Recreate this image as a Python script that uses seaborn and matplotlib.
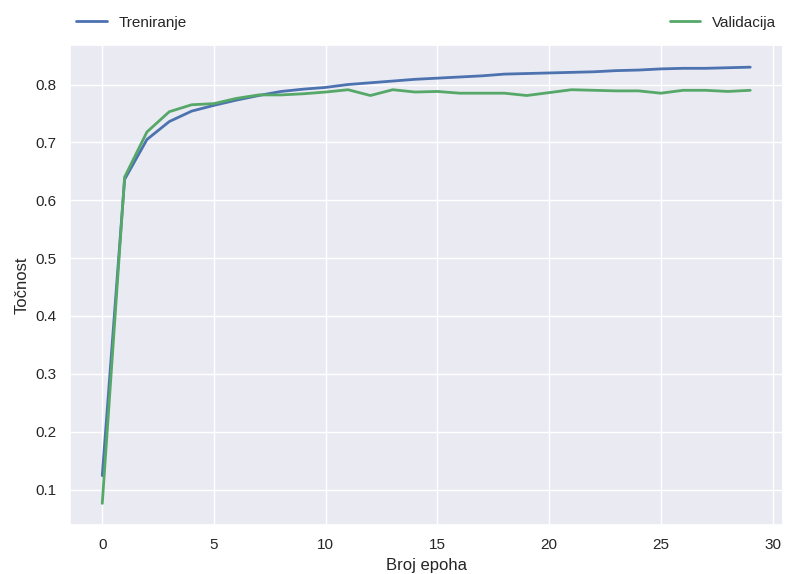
import matplotlib
matplotlib.use("Agg")
import matplotlib.pyplot as plt
import seaborn as sns
import pandas as pd

epochs = list(range(30))
train_acc = [0.124, 0.636, 0.705, 0.736, 0.754, 0.764, 0.773, 0.781, 0.788, 0.792,
             0.795, 0.800, 0.803, 0.806, 0.809, 0.811, 0.813, 0.815, 0.818, 0.819,
             0.820, 0.821, 0.822, 0.824, 0.825, 0.827, 0.828, 0.828, 0.829, 0.830]
val_acc = [0.076, 0.640, 0.718, 0.753, 0.765, 0.767, 0.776, 0.782, 0.782, 0.784,
           0.787, 0.791, 0.781, 0.791, 0.787, 0.788, 0.785, 0.785, 0.785, 0.781,
           0.786, 0.791, 0.790, 0.789, 0.789, 0.785, 0.790, 0.790, 0.788, 0.790]
labels = ["Treniranje", "Validacija"]
colors = ["#4C72B0", "#55A868"]

sns.set_theme(style="darkgrid")
plt.rcParams["font.family"] = ["Liberation Sans", "DejaVu Sans"]

df = pd.DataFrame({"epoha": epochs, labels[0]: train_acc, labels[1]: val_acc})

fig, ax = plt.subplots(figsize=(7.85, 5.74), dpi=100)
fig.subplots_adjust(left=0.089, right=0.997, bottom=0.085, top=0.921)

sns.lineplot(data=df, x="epoha", y=labels[0], label=labels[0], ax=ax,
             color=colors[0], linewidth=2)
sns.lineplot(data=df, x="epoha", y=labels[1], label=labels[1], ax=ax,
             color=colors[1], linewidth=2)

ax.set_xlabel("Broj epoha")
ax.set_ylabel("Točnost")
ax.legend(bbox_to_anchor=(0., 1.02, 1., .102), loc="lower left", ncol=2,
          mode="expand", borderaxespad=0., frameon=False)

plt.savefig("out.png")
